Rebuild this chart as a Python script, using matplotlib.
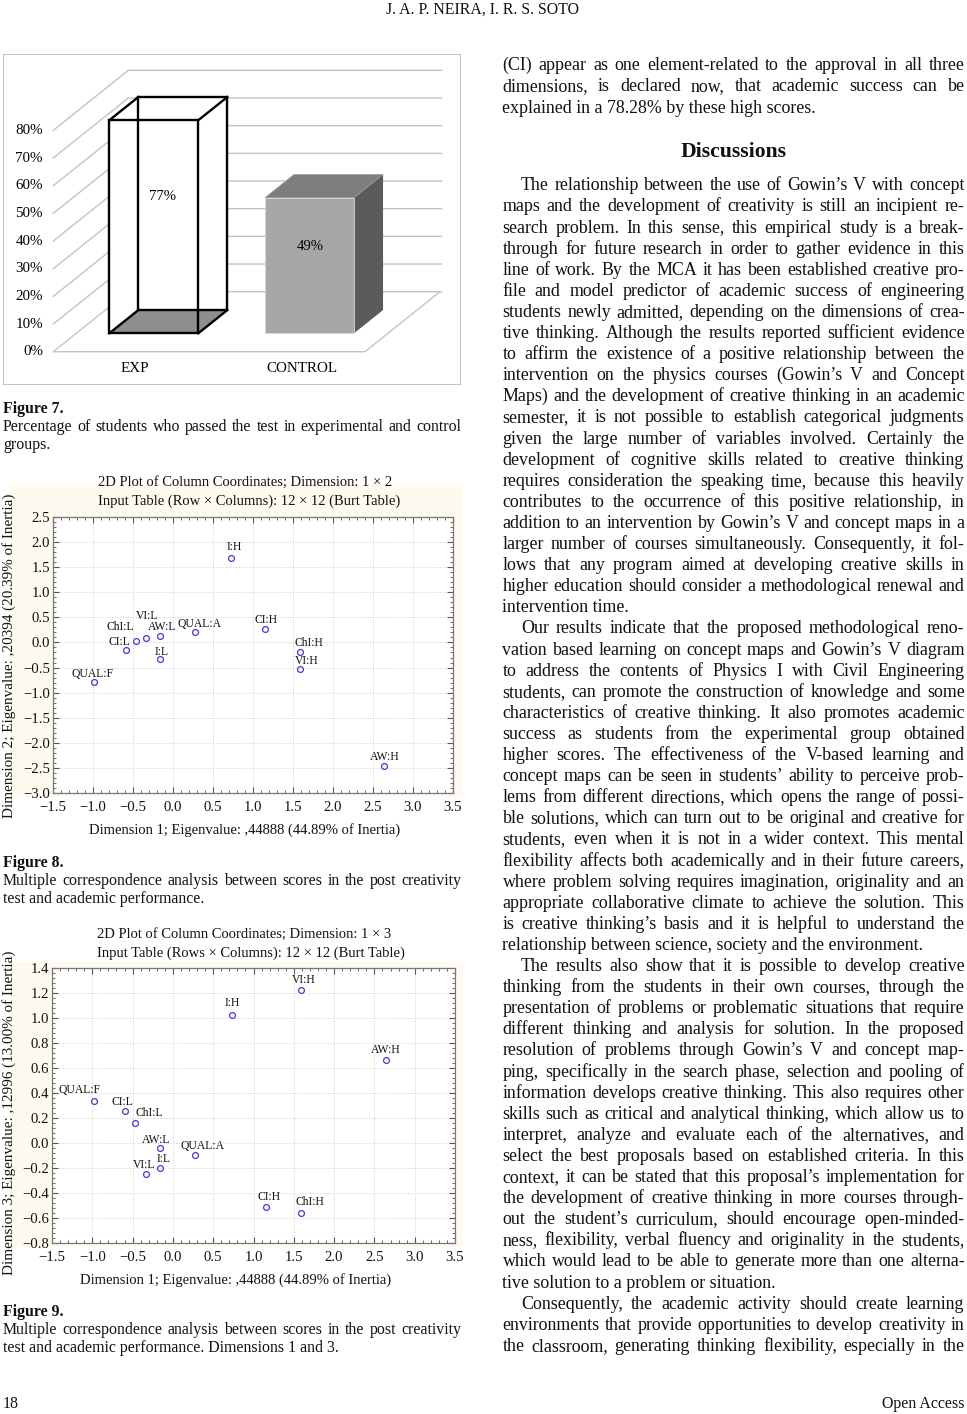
import numpy as np
import matplotlib
matplotlib.use('Agg')
from matplotlib import pyplot as plt
from matplotlib.patches import Polygon, Rectangle
from matplotlib.ticker import MultipleLocator, AutoMinorLocator, FuncFormatter

plt.rcParams['font.family'] = ['Liberation Serif', 'DejaVu Serif']
plt.rcParams['axes.unicode_minus'] = True

# ---- data ----
groups = ['EXP', 'CONTROL']
passed = [77, 49]  # % of students who passed
pct_ticks = [0, 10, 20, 30, 40, 50, 60, 70, 80]

cats = ['I:H', 'CI:H', 'ChI:H', 'VI:H', 'AW:H', 'QUAL:A',
        'AW:L', 'VI:L', 'ChI:L', 'CI:L', 'I:L', 'QUAL:F']
dim1 = [0.73, 1.15, 1.585, 1.585, 2.64, 0.275,
        -0.165, -0.335, -0.467, -0.59, -0.163, -0.985]
dim2 = [1.69, 0.27, -0.196, -0.536, -2.467, 0.21,
        0.13, 0.097, 0.037, -0.15, -0.33, -0.78]
dim3 = [1.027, -0.509, -0.557, 1.224, 0.667, -0.096,
        -0.04, -0.245, 0.163, 0.253, -0.203, 0.339]

# label offsets (px) from the point, per category
off8 = [(3, 11), (1, 9), (9, 9), (7, 8), (1, 9), (5, 8),
        (2, 9), (1, 22), (-15, 14), (-6, 8), (2, 7), (-2, 8)]
off9 = [(1, 12), (3, 10), (9, 11), (3, 10), (0, 10), (7, 9),
        (-3, 8), (-2, 9), (14, 10), (-3, 9), (4, 9), (-14, 11)]

W, H = 967, 1414
fig = plt.figure(figsize=(W / 100, H / 100), dpi=100)
renderer = fig.canvas.get_renderer()


def fx(x):
    return x / W


def fy(y):
    return 1 - y / H


def line(s, x0, x1, y, size, justify=False, weight='normal', ha='left'):
    base = y + 0.3 * size / 0.72
    if not justify:
        xx = x0 if ha == 'left' else (x1 if ha == 'right' else (x0 + x1) / 2)
        fig.text(fx(xx), fy(base), s, fontsize=size, weight=weight, ha=ha,
                 va='baseline', color='#111111')
        return
    words = s.split(' ')
    objs = [fig.text(0, fy(base), w, fontsize=size, weight=weight,
                     va='baseline', color='#111111') for w in words]
    widths = [o.get_window_extent(renderer).width for o in objs]
    gap = (x1 - x0 - sum(widths)) / (len(words) - 1)
    x = x0
    for o, w in zip(objs, widths):
        o.set_x(fx(x))
        x += w + gap


def paragraph(lines, x0, x1, y0, step, size, indent=0):
    for i, s in enumerate(lines):
        last = i == len(lines) - 1
        line(s, x0 + (indent if i == 0 else 0), x1, y0 + i * step, size,
             justify=not last)


def centered(s, xc, y, size):
    line(s, xc, xc, y, size, ha='center')


# ---- header / footer ----
centered('J. A. P. NEIRA, I. R. S. SOTO', 483, 9, 11.4)
line('18', 3, 100, 1403, 11.4)
line('Open Access', 800, 964, 1403, 11.4, ha='right')

# ---- Figure 7: pseudo-3D bar chart ----
ax7 = fig.add_axes([fx(3), fy(385), 458 / W, 331 / H])
ax7.set_xlim(3, 461)
PX = 2.767  # px per percent
ax7.set_ylim((351.7 - 385) / PX, (351.7 - 54) / PX)
ax7.axis('off')
ax7.add_patch(Rectangle((0, 0), 1, 1, transform=ax7.transAxes, fill=False,
                        edgecolor='#b8b8b8', lw=1.2))
DX, DY = 75.0, 60.0 / PX
xl, xr = 53.3, 365.0
gc = '#c4c4c4'
for p in pct_ticks:
    ax7.plot([xl, xl + DX, xr + DX + 1.5], [p, p + DY, p + DY], color=gc, lw=1, zorder=1)
    ax7.text(43, p, f'{p}%', ha='right', va='center', fontsize=10.8)
ax7.plot([xl, xr, xr + DX], [0, 0, DY], color=gc, lw=1, zorder=1)

zf, zb = 0.306, 0.694
bar_left = [86.3, 242.0]
bw = 89.0
cat_x = [135, 302]


def P(x, y, z):
    return (x + z * DX, y + z * DY)


for i, (g, v) in enumerate(zip(groups, passed)):
    x0 = bar_left[i]
    fl, fb = P(x0, 0, zf)
    top_poly = [P(x0, v, zf), P(x0 + bw, v, zf), P(x0 + bw, v, zb), P(x0, v, zb)]
    side_poly = [P(x0 + bw, 0, zf), P(x0 + bw, v, zf), P(x0 + bw, v, zb), P(x0 + bw, 0, zb)]
    if i == 0:
        # wireframe bar with grey floor
        ax7.add_patch(Polygon(top_poly, closed=True, fc='white', ec='none', zorder=2))
        ax7.add_patch(Polygon(side_poly, closed=True, fc='white', ec='none', zorder=2))
        ax7.bar(fl, v, width=bw, bottom=fb, align='edge', color='white', zorder=2)
        floor = [P(x0, 0, zf), P(x0 + bw, 0, zf), P(x0 + bw, 0, zb), P(x0, 0, zb)]
        ax7.add_patch(Polygon(floor, closed=True, fc='#8e8e8e', ec='none', zorder=3))
        bl, bb = P(x0, 0, zb)
        ax7.bar(bl, v, width=bw, bottom=bb, align='edge', fill=False,
                edgecolor='black', lw=1.7, zorder=4)
        ax7.bar(fl, v, width=bw, bottom=fb, align='edge', fill=False,
                edgecolor='black', lw=1.7, zorder=4)
        for dx in (0, bw):
            for h in (0, v):
                a, b = P(x0 + dx, h, zf), P(x0 + dx, h, zb)
                ax7.plot([a[0], b[0]], [a[1], b[1]], color='black', lw=1.7, zorder=4)
        lx = fl + bw / 2 + 9
    else:
        ax7.add_patch(Polygon(side_poly, closed=True, fc='#5b5b5b', ec='none', zorder=2))
        ax7.add_patch(Polygon(top_poly, closed=True, fc='#7e7e7e', ec='#9a9a9a', lw=0.5, zorder=2))
        ax7.bar(fl, v, width=bw, bottom=fb, align='edge', color='#a7a7a7',
                edgecolor='#d6d6d6', lw=0.6, zorder=3)
        lx = fl + bw / 2 + 1
    ax7.text(lx, fb + 0.64 * v, f'{v}%', ha='center', va='center', fontsize=10.6, zorder=5)
    ax7.text(cat_x[i], -6, g, ha='center', va='center', fontsize=10.8)

# ---- captions ----
line('Figure 7.', 3, 461, 408, 11.4, weight='bold')
line('Percentage of students who passed the test in experimental and control', 3, 461, 426, 11.4, justify=True)
line('groups.', 3, 461, 444, 11.4)

cap_mca = 'Multiple correspondence analysis between scores in the post creativity'
line('Figure 8.', 3, 461, 862, 11.4, weight='bold')
line(cap_mca, 3, 461, 880, 11.4, justify=True)
line('test and academic performance.', 3, 461, 898, 11.4)

line('Figure 9.', 3, 461, 1311, 11.4, weight='bold')
line(cap_mca, 3, 461, 1329, 11.4, justify=True)
line('test and academic performance. Dimensions 1 and 3.', 3, 461, 1347, 11.4)

minus_fmt = FuncFormatter(lambda v, pos: f'{v:.1f}'.replace('-', '\u2212'))


# ---- Figures 8 and 9: MCA scatter ----
def mca(rect, ys, offs, ylim, ystep, title, tx, xlab, xlx, ylab, ylab_y, bg):
    fig.patches.append(Rectangle((fx(bg[0]), fy(bg[3])), (bg[2] - bg[0]) / W,
                                 (bg[3] - bg[1]) / H, transform=fig.transFigure,
                                 fc='#fffaf0', ec='none', zorder=-5))
    ax = fig.add_axes([fx(rect[0]), fy(rect[3]), (rect[2] - rect[0]) / W,
                       (rect[3] - rect[1]) / H])
    ax.set_zorder(2)
    ax.set_facecolor('white')
    ax.plot(dim1, ys, 'o', mfc='none', mec='#3d3dd8', ms=4.2, mew=0.9, zorder=3)
    for c, xv, yv, (dx, dy) in zip(cats, dim1, ys, offs):
        ax.annotate(c, (xv, yv), xytext=(dx * 0.72, dy * 0.72),
                    textcoords='offset points', ha='center', va='center',
                    fontsize=8.4, color='#111111')
    ax.set_xlim(-1.5, 3.5)
    ax.set_ylim(*ylim)
    ax.xaxis.set_major_locator(MultipleLocator(0.5))
    ax.yaxis.set_major_locator(MultipleLocator(ystep))
    ax.xaxis.set_minor_locator(AutoMinorLocator(5))
    ax.yaxis.set_minor_locator(AutoMinorLocator(5))
    ax.xaxis.set_major_formatter(minus_fmt)
    ax.yaxis.set_major_formatter(minus_fmt)
    ax.tick_params(which='both', direction='in', top=True, right=True,
                   colors='#555555', labelcolor='#111111', labelsize=10.6)
    ax.tick_params(which='major', length=4, width=0.8)
    ax.tick_params(which='minor', length=2, width=0.6)
    ax.tick_params(axis='x', pad=6)
    ax.tick_params(axis='y', pad=2)
    ax.grid(True, which='major', ls=':', color='#cfcfcf', lw=0.7)
    for s in ax.spines.values():
        s.set_color('#777777')
        s.set_linewidth(0.9)
    centered(title[0], tx[0], title[2], 10.5)
    centered(title[1], tx[1], title[2] + 18, 10.5)
    centered(xlab, xlx, rect[3] + 36, 10.5)
    fig.text(fx(9), fy(ylab_y), ylab, rotation=90, ha='center', va='center',
             fontsize=10.9, color='#111111')


mca((53, 517, 453, 793), dim2, off8, (-3.0, 2.5), 0.5,
    ('2D Plot of Column Coordinates; Dimension: 1 \u00d7 2',
     'Input Table (Row \u00d7 Columns): 12 \u00d7 12 (Burt Table)', 482), (245, 249),
    'Dimension 1; Eigenvalue: ,44888 (44.89% of Inertia)', 245,
    'Dimension 2; Eigenvalue: ,20394 (20.39% of Inertia)', 656,
    (10, 484, 463, 797))

mca((52, 968, 455, 1243), dim3, off9, (-0.8, 1.4), 0.2,
    ('2D Plot of Column Coordinates; Dimension: 1 \u00d7 3',
     'Input Table (Rows \u00d7 Columns): 12 \u00d7 12 (Burt Table)', 934), (244, 251),
    'Dimension 1; Eigenvalue: ,44888 (44.89% of Inertia)', 236,
    'Dimension 3; Eigenvalue: ,12996 (13.00% of Inertia)', 1113,
    (10, 962, 463, 1247))

# ---- right column text ----
X0, X1, IND, STEP, FS = 502.5, 964.5, 18.5, 21.1, 12.9

block0 = [
    '(CI) appear as one element-related to the approval in all three',
    'dimensions, is declared now, that academic success can be',
    'explained in a 78.28% by these high scores.',
]
para1 = [
    'The relationship between the use of Gowin\u2019s V with concept',
    'maps and the development of creativity is still an incipient re-',
    'search problem. In this sense, this empirical study is a break-',
    'through for future research in order to gather evidence in this',
    'line of work. By the MCA it has been established creative pro-',
    'file and model predictor of academic success of engineering',
    'students newly admitted, depending on the dimensions of crea-',
    'tive thinking. Although the results reported sufficient evidence',
    'to affirm the existence of a positive relationship between the',
    'intervention on the physics courses (Gowin\u2019s V and Concept',
    'Maps) and the development of creative thinking in an academic',
    'semester, it is not possible to establish categorical judgments',
    'given the large number of variables involved. Certainly the',
    'development of cognitive skills related to creative thinking',
    'requires consideration the speaking time, because this heavily',
    'contributes to the occurrence of this positive relationship, in',
    'addition to an intervention by Gowin\u2019s V and concept maps in a',
    'larger number of courses simultaneously. Consequently, it fol-',
    'lows that any program aimed at developing creative skills in',
    'higher education should consider a methodological renewal and',
    'intervention time.',
]
para2 = [
    'Our results indicate that the proposed methodological reno-',
    'vation based learning on concept maps and Gowin\u2019s V diagram',
    'to address the contents of Physics I with Civil Engineering',
    'students, can promote the construction of knowledge and some',
    'characteristics of creative thinking. It also promotes academic',
    'success as students from the experimental group obtained',
    'higher scores. The effectiveness of the V-based learning and',
    'concept maps can be seen in students\u2019 ability to perceive prob-',
    'lems from different directions, which opens the range of possi-',
    'ble solutions, which can turn out to be original and creative for',
    'students, even when it is not in a wider context. This mental',
    'flexibility affects both academically and in their future careers,',
    'where problem solving requires imagination, originality and an',
    'appropriate collaborative climate to achieve the solution. This',
    'is creative thinking\u2019s basis and it is helpful to understand the',
    'relationship between science, society and the environment.',
]
para3 = [
    'The results also show that it is possible to develop creative',
    'thinking from the students in their own courses, through the',
    'presentation of problems or problematic situations that require',
    'different thinking and analysis for solution. In the proposed',
    'resolution of problems through Gowin\u2019s V and concept map-',
    'ping, specifically in the search phase, selection and pooling of',
    'information develops creative thinking. This also requires other',
    'skills such as critical and analytical thinking, which allow us to',
    'interpret, analyze and evaluate each of the alternatives, and',
    'select the best proposals based on established criteria. In this',
    'context, it can be stated that this proposal\u2019s implementation for',
    'the development of creative thinking in more courses through-',
    'out the student\u2019s curriculum, should encourage open-minded-',
    'ness, flexibility, verbal fluency and originality in the students,',
    'which would lead to be able to generate more than one alterna-',
    'tive solution to a problem or situation.',
]
para4 = [
    'Consequently, the academic activity should create learning',
    'environments that provide opportunities to develop creativity in',
    'the classroom, generating thinking flexibility, especially in the',
]

paragraph(block0, X0, X1, 65, STEP, FS)
line('Discussions', X0, X1, 150.5, 15.6, weight='bold', ha='center')
y = 185
for para in (para1, para2, para3):
    paragraph(para, X0, X1, y, STEP, FS, indent=IND)
    y += len(para) * STEP
for i, s in enumerate(para4):
    line(s, X0 + (IND if i == 0 else 0), X1, y + i * STEP, FS, justify=True)

fig.savefig('out.png', dpi=100)
